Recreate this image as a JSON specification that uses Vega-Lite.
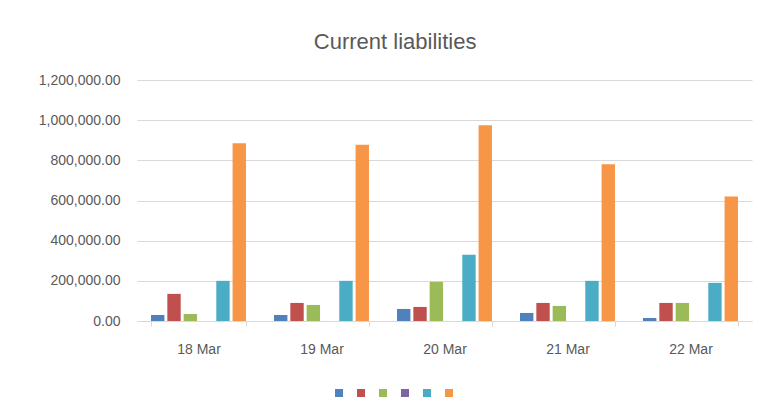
{
  "$schema": "https://vega.github.io/schema/vega-lite/v6.json",
  "autosize": "none",
  "width": 615,
  "height": 241,
  "padding": {"left": 137, "top": 80, "right": 9, "bottom": 93},
  "background": "white",
  "title": {
    "text": "Current liabilities",
    "font": "Liberation Sans",
    "fontSize": 22,
    "fontWeight": "normal",
    "color": "#595959",
    "anchor": "middle",
    "frame": "bounds",
    "offset": 19
  },
  "data": {
    "values": [
      {"date": "18 Mar", "series": "Series 1", "value": 30000},
      {"date": "18 Mar", "series": "Series 2", "value": 135000},
      {"date": "18 Mar", "series": "Series 3", "value": 35000},
      {"date": "18 Mar", "series": "Series 4", "value": 0},
      {"date": "18 Mar", "series": "Series 5", "value": 200000},
      {"date": "18 Mar", "series": "Series 6", "value": 885000},
      {"date": "19 Mar", "series": "Series 1", "value": 30000},
      {"date": "19 Mar", "series": "Series 2", "value": 90000},
      {"date": "19 Mar", "series": "Series 3", "value": 80000},
      {"date": "19 Mar", "series": "Series 4", "value": 0},
      {"date": "19 Mar", "series": "Series 5", "value": 200000},
      {"date": "19 Mar", "series": "Series 6", "value": 878000},
      {"date": "20 Mar", "series": "Series 1", "value": 60000},
      {"date": "20 Mar", "series": "Series 2", "value": 70000},
      {"date": "20 Mar", "series": "Series 3", "value": 195000},
      {"date": "20 Mar", "series": "Series 4", "value": 0},
      {"date": "20 Mar", "series": "Series 5", "value": 330000},
      {"date": "20 Mar", "series": "Series 6", "value": 975000},
      {"date": "21 Mar", "series": "Series 1", "value": 40000},
      {"date": "21 Mar", "series": "Series 2", "value": 90000},
      {"date": "21 Mar", "series": "Series 3", "value": 75000},
      {"date": "21 Mar", "series": "Series 4", "value": 0},
      {"date": "21 Mar", "series": "Series 5", "value": 200000},
      {"date": "21 Mar", "series": "Series 6", "value": 780000},
      {"date": "22 Mar", "series": "Series 1", "value": 15000},
      {"date": "22 Mar", "series": "Series 2", "value": 90000},
      {"date": "22 Mar", "series": "Series 3", "value": 90000},
      {"date": "22 Mar", "series": "Series 4", "value": 0},
      {"date": "22 Mar", "series": "Series 5", "value": 190000},
      {"date": "22 Mar", "series": "Series 6", "value": 620000}
    ]
  },
  "mark": {"type": "bar"},
  "encoding": {
    "x": {
      "field": "date",
      "type": "nominal",
      "sort": null,
      "scale": {"paddingInner": 0.228, "paddingOuter": 0.114},
      "axis": {
        "title": null,
        "labelAngle": 0,
        "labelFont": "Liberation Sans",
        "labelFontSize": 14,
        "labelColor": "#595959",
        "labelPadding": 16,
        "domainColor": "#d9d9d9",
        "tickColor": "#d9d9d9",
        "tickSize": 5,
        "tickBand": "extent",
        "grid": false
      }
    },
    "xOffset": {
      "field": "series",
      "type": "nominal",
      "scale": {"paddingInner": 0.18, "paddingOuter": 0}
    },
    "y": {
      "field": "value",
      "type": "quantitative",
      "scale": {"domain": [0, 1200000]},
      "axis": {
        "title": null,
        "values": [0, 200000, 400000, 600000, 800000, 1000000, 1200000],
        "format": ",.2f",
        "labelFont": "Liberation Sans",
        "labelFontSize": 14,
        "labelColor": "#595959",
        "labelPadding": 17,
        "domain": false,
        "ticks": false,
        "gridColor": "#d9d9d9",
        "gridWidth": 1
      }
    },
    "color": {
      "field": "series",
      "type": "nominal",
      "scale": {
        "domain": ["Series 1", "Series 2", "Series 3", "Series 4", "Series 5", "Series 6"],
        "range": ["#4F81BD", "#C0504D", "#9BBB59", "#8064A2", "#4BACC6", "#F79646"]
      },
      "legend": {
        "title": null,
        "orient": "none",
        "legendX": 197,
        "legendY": 308,
        "direction": "horizontal",
        "symbolType": "square",
        "symbolSize": 64,
        "symbolStrokeWidth": 0,
        "labelExpr": "''",
        "labelOffset": 0,
        "columnPadding": 12
      }
    }
  },
  "config": {
    "view": {"stroke": null}
  }
}
